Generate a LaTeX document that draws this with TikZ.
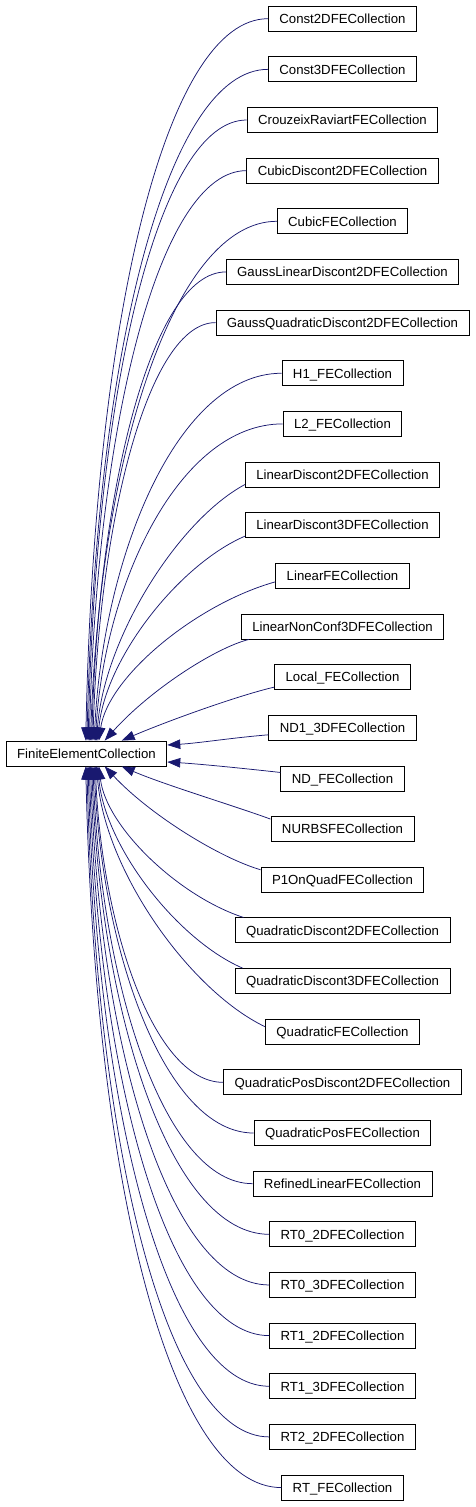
\documentclass[tikz,border=0pt]{standalone}
\usepackage{fontspec}
\setmainfont{Liberation Sans}
\usetikzlibrary{arrows.meta,calc}
\definecolor{edgeblue}{HTML}{191970}
\newcommand\midedge[2]{%
  \draw[edge] let \p1=(#1), \p2=(#2) in (\p1) .. controls
    ({\x1-0.45*(\x1-\x2)},{\y1-0.14*(\y1-\y2)}) and
    ({\x2+0.05*(\x1-\x2)},{\y2+0.4*(\y1-\y2)}) .. (\p2);}
\begin{document}
\begin{tikzpicture}[x=1pt,y=-1pt,
  cls/.style={draw=black,line width=0.9pt,fill=white,font=\fontsize{13.2}{15}\selectfont,
    inner xsep=11pt,inner ysep=0pt,minimum height=25pt,text height=9.5pt,text depth=0pt},
  edge/.style={draw=edgeblue,line width=0.75pt,-{Triangle[length=13pt,width=9.5pt]}}]
\useasboundingbox (0,0) rectangle (475,1507);
\node[cls] (fec) at (86.5,753.5) {FiniteElementCollection};
\foreach \n [count=\i] in {Const2DFECollection,Const3DFECollection,CrouzeixRaviartFECollection,
  CubicDiscont2DFECollection,CubicFECollection,GaussLinearDiscont2DFECollection,
  GaussQuadraticDiscont2DFECollection,H1\_FECollection,L2\_FECollection,
  LinearDiscont2DFECollection,LinearDiscont3DFECollection,LinearFECollection,
  LinearNonConf3DFECollection,Local\_FECollection,ND1\_3DFECollection,ND\_FECollection,
  NURBSFECollection,P1OnQuadFECollection,QuadraticDiscont2DFECollection,
  QuadraticDiscont3DFECollection,QuadraticFECollection,QuadraticPosDiscont2DFECollection,
  QuadraticPosFECollection,RefinedLinearFECollection,RT0\_2DFECollection,RT0\_3DFECollection,
  RT1\_2DFECollection,RT1\_3DFECollection,RT2\_2DFECollection,RT\_FECollection}{
  \node[cls] (c\i) at (342.5,{18.7+(\i-1)*50.65}) {\n};
}
% far edges, upper group
\foreach \i in {1,...,9}{
  \pgfmathsetmacro\xt{80+(\i-1)*1.2}
  \pgfmathsetmacro\cc{0.6-0.14*(\i-1)/11}
  \draw[edge] let \p1=(c\i.west), \p2=([xshift=\xt pt]fec.north west) in
    (\p1) .. controls ({\x1-0.55*(\x1-\x2)},\y1) and ({\x2+0.05*(\x1-\x2)},{\y2+\cc*(\y1-\y2)}) .. (\p2);
}
% far edges, lower group
\foreach \i in {22,...,30}{
  \pgfmathsetmacro\xt{80+(30-\i)*1.2}
  \pgfmathsetmacro\cc{0.6-0.14*(30-\i)/11}
  \draw[edge] let \p1=(c\i.west), \p2=([xshift=\xt pt]fec.south west) in
    (\p1) .. controls ({\x1-0.55*(\x1-\x2)},\y1) and ({\x2+0.05*(\x1-\x2)},{\y2+\cc*(\y1-\y2)}) .. (\p2);
}
% middle edges
\midedge{[yshift=-10pt]c10.west}{[xshift=90.8pt]fec.north west}
\midedge{[yshift=-11pt]c11.west}{[xshift=92pt]fec.north west}
\midedge{[yshift=-6pt]c12.west}{[xshift=93.2pt]fec.north west}
\midedge{[xshift=9pt]c19.north west}{[xshift=93.2pt]fec.south west}
\midedge{[xshift=8pt]c20.north west}{[xshift=92pt]fec.south west}
\midedge{[yshift=5pt]c21.west}{[xshift=90.8pt]fec.south west}
% near edges
\draw[edge] ([xshift=8pt]c13.south west) .. controls (215,648) and (150,690) .. ([xshift=99pt]fec.north west);
\draw[edge] ([yshift=-10pt]c14.west) .. controls (240,695) and (170,720) .. ([xshift=116pt]fec.north west);
\draw[edge] ([yshift=-7pt]c15.west) .. controls (230,738) and (200,743) .. ([yshift=8.5pt]fec.east);
\draw[edge] ([yshift=6pt]c16.west) .. controls (240,768) and (200,764) .. ([yshift=-8.5pt]fec.east);
\draw[edge] ([yshift=10pt]c17.west) .. controls (235,806) and (165,785) .. ([xshift=116pt]fec.south west);
\draw[edge] ([yshift=10pt]c18.west) .. controls (220,858) and (150,815) .. ([xshift=99pt]fec.south west);
\end{tikzpicture}
\end{document}
